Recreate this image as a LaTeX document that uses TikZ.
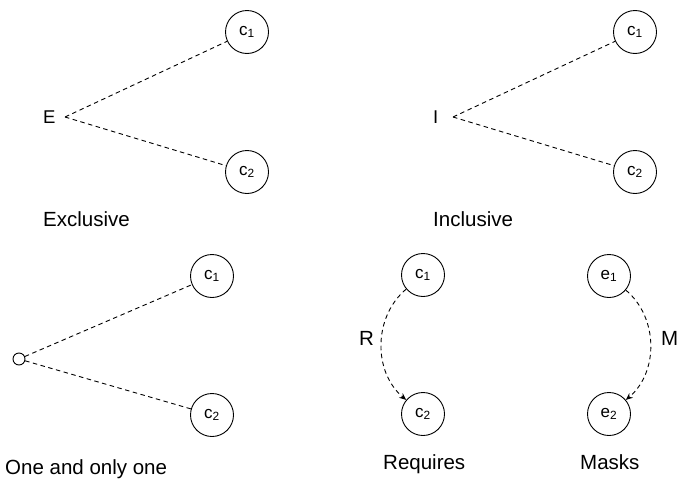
\documentclass[tikz,border=0pt]{standalone}
\usepackage{fontspec}
\setmainfont{Liberation Sans}
\usetikzlibrary{arrows.meta}
\begin{document}
\begin{tikzpicture}[x=1pt,y=-1pt,
  feat/.style={circle,draw,line width=0.9pt,minimum size=43pt,inner sep=0pt,font=\fontsize{17}{19}\selectfont},
  lbl/.style={anchor=base west,inner sep=0pt,font=\fontsize{20.5}{24}\selectfont},
  grp/.style={anchor=base west,inner sep=0pt,font=\fontsize{18.5}{20}\selectfont},
  dash line/.style={line width=0.9pt,dash pattern=on 4.5pt off 3.5pt},
  arr/.style={dash line,-{Stealth[length=7pt,width=6pt]}}]
\useasboundingbox (0,0) rectangle (680,482);
% Exclusive
\node[grp] (E) at (43,123) {E};
\coordinate (e0) at (65,117);
\node[feat] (ec1) at (247,32) {c\textsubscript{1}};
\node[feat] (ec2) at (247,172) {c\textsubscript{2}};
\draw[dash line] (e0) -- (ec1);
\draw[dash line] (e0) -- (ec2);
\node[lbl] (lex) at (43,226) {Exclusive};
% Inclusive
\node[grp] (I) at (433,123) {I};
\coordinate (i0) at (453,117);
\node[feat] (ic1) at (635,32) {c\textsubscript{1}};
\node[feat] (ic2) at (635,172) {c\textsubscript{2}};
\draw[dash line] (i0) -- (ic1);
\draw[dash line] (i0) -- (ic2);
\node[lbl] (lin) at (433,226) {Inclusive};
% One and only one
\node[circle,draw,line width=0.9pt,minimum size=12pt,inner sep=0pt] (o) at (19,359) {};
\node[feat] (oc1) at (212,276) {c\textsubscript{1}};
\node[feat] (oc2) at (212,415) {c\textsubscript{2}};
\draw[dash line] (o) -- (oc1);
\draw[dash line] (o) -- (oc2);
\node[lbl] (lone) at (5,474) {One and only one};
% Requires
\node[feat] (rc1) at (423,275) {c\textsubscript{1}};
\node[feat] (rc2) at (423,414) {c\textsubscript{2}};
\draw[arr] (rc1) to[bend right=50] (rc2);
\node[lbl] (R) at (359,345) {R};
\node[lbl] (lreq) at (383,469) {Requires};
% Masks
\node[feat] (me1) at (609,276) {e\textsubscript{1}};
\node[feat] (me2) at (609,414) {e\textsubscript{2}};
\draw[arr] (me1) to[bend left=50] (me2);
\node[lbl] (M) at (661,345) {M};
\node[lbl] (lmask) at (580,469) {Masks};
\end{tikzpicture}
\end{document}
